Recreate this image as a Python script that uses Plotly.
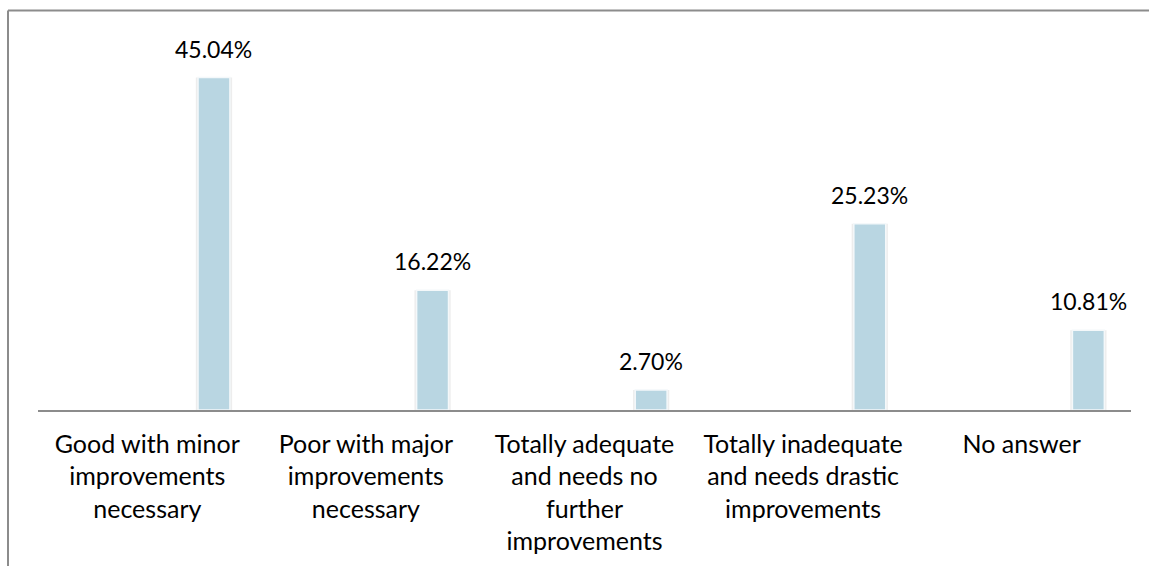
import plotly.graph_objects as go

# Survey responses: share of respondents per rating
categories = [
    "Good with minor<br>improvements<br>necessary",
    "Poor with major<br>improvements<br>necessary",
    "Totally adequate<br>and needs no<br>further<br>improvements",
    "Totally inadequate<br>and needs drastic<br>improvements",
    "No answer",
]
shares = [45.04, 16.22, 2.70, 25.23, 10.81]
share_labels = ["45.04%", "16.22%", "2.70%", "25.23%", "10.81%"]

FONT = "Lato"
BAR_COLOR = "#B9D6E2"
AXIS_GRAY = "#8C8C8C"

# bars sit to the right of each category slot
BAR_WIDTH = 0.146
BAR_CENTER = 0.305

fig = go.Figure()

# soft shadow behind each bar
fig.add_trace(go.Bar(
    x=categories, y=shares,
    width=BAR_WIDTH + 0.02, offset=BAR_CENTER - (BAR_WIDTH + 0.02) / 2,
    marker=dict(color="rgba(0,0,0,0.07)", line=dict(width=0)),
    hoverinfo="skip", showlegend=False,
))
fig.add_trace(go.Bar(
    x=categories, y=shares,
    width=BAR_WIDTH, offset=BAR_CENTER - BAR_WIDTH / 2,
    marker=dict(color=BAR_COLOR, line=dict(color="#F4F8FA", width=1.5)),
    showlegend=False,
))

for i, (v, lab) in enumerate(zip(shares, share_labels)):
    fig.add_annotation(
        x=i + BAR_CENTER, y=v, xref="x", yref="y",
        text=lab, showarrow=False, yanchor="bottom", yshift=13,
        font=dict(family=FONT, size=23, color="#000000"),
    )

W, H = 1149, 566
ML, MR, MT, MB = 38, 18, 41.4, 156
pw, ph = W - ML - MR, H - MT - MB

# chart border: top and left edges
top_y = 1 + (MT - 11) / ph
left_x = (8 - ML) / pw
fig.add_shape(type="line", xref="paper", yref="paper",
              x0=left_x, x1=1 + (MR + 5) / pw, y0=top_y, y1=top_y,
              line=dict(color=AXIS_GRAY, width=2))
fig.add_shape(type="line", xref="paper", yref="paper",
              x0=left_x, x1=left_x, y0=top_y, y1=-(MB + 5) / ph,
              line=dict(color=AXIS_GRAY, width=2))

fig.update_layout(
    width=W, height=H,
    margin=dict(l=ML, r=MR, t=MT, b=MB, pad=0),
    paper_bgcolor="white", plot_bgcolor="white",
    barmode="overlay",
    font=dict(family=FONT, size=24, color="#000000"),
    xaxis=dict(
        type="category", showline=True, linecolor=AXIS_GRAY, linewidth=1.5,
        ticks="", showgrid=False, zeroline=False,
        tickfont=dict(family=FONT, size=25, color="#000000"),
        ticklabelstandoff=11, range=[-0.5, 4.5],
    ),
    yaxis=dict(range=[0, 50], visible=False, showgrid=False, zeroline=False),
)

fig.write_html("out.html")
